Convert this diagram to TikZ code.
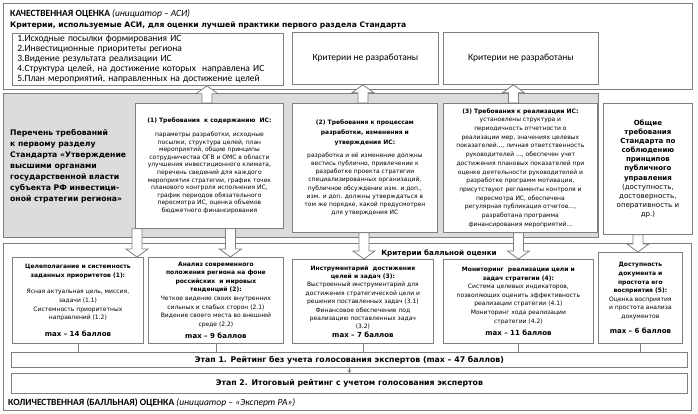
\documentclass[tikz,border=0pt]{standalone}
\usepackage{fontspec}
\setmainfont{DejaVu Sans}
\newfontfamily\calibrifont{Carlito}
\usetikzlibrary{arrows.meta,calc}
\definecolor{linegray}{HTML}{7F7F7F}
\definecolor{bandgray}{HTML}{DCDCDC}
\tikzset{wh/.style 2 args={minimum width=#1pt, minimum height=#2pt}}

\begin{document}
\begin{tikzpicture}[x=1pt,y=-1pt]
        \tikzstyle{frame}=[draw=linegray, line width=0.8pt, anchor=north west, inner sep=0pt]
        \tikzstyle{box}=[draw=linegray, line width=0.8pt, fill=white, anchor=north west, inner sep=2pt, align=center]
        \tikzstyle{req}=[box, font=\fontsize{6}{8.2}\selectfont]
        \tikzstyle{crit}=[box, font=\fontsize{6}{8.6}\selectfont]
        \tikzstyle{linkline}=[draw=linegray, line width=0.8pt]
        \tikzstyle{hollow}=[draw=linegray, fill=white, line width=0.8pt,
            to path={let \p1=(\tikztostart), \p2=(\tikztotarget), \n1={sign(\y2-\y1)} in
                (\x1-5pt,\y1) -- (\x1-5pt,\y2-\n1*8pt) -- (\x1-11pt,\y2-\n1*8pt) -- (\x1,\y2)
                -- (\x1+11pt,\y2-\n1*8pt) -- (\x1+5pt,\y2-\n1*8pt) -- (\x1+5pt,\y1) -- cycle}]

        \useasboundingbox (0,0) rectangle (698,414);

        % upper part
        \node[frame, wh={689}{86}] (qualframe) at (3,3) {};
        \node[anchor=west, inner sep=0pt, font=\calibrifont\fontsize{9.5}{11}\selectfont] (qualtitle) at (10,14)
            {\textbf{КАЧЕСТВЕННАЯ ОЦЕНКА} \textit{(инициатор – АСИ)}};
        \node[anchor=west, inner sep=0pt, font=\bfseries\fontsize{7.6}{9}\selectfont] (qualsub) at (10,25)
            {Критерии, используемые АСИ, для оценки лучшей практики первого раздела Стандарта};
        \node[box, wh={271}{52}, inner xsep=5pt, text width=261pt, align=left, font=\calibrifont\fontsize{9.5}{10}\selectfont] (basics) at (12,33)
            {1.Исходные посылки формирования ИС\\ 2.Инвестиционные приоритеты региона\\ 3.Видение результата реализации ИС\\
             4.Структура целей, на достижение которых\ \ направлена ИС\\ 5.План мероприятий, направленных на достижение целей};
        \node[box, wh={146}{52}, font=\calibrifont\fontsize{9.5}{10}\selectfont] (nocrit2) at (292,32) {Критерии не разработаны};
        \node[box, wh={155}{52}, font=\calibrifont\fontsize{9.5}{10}\selectfont] (nocrit3) at (443,32) {Критерии не разработаны};

        % requirements band
        \node[frame, fill=bandgray, wh={595}{144}] (reqband) at (3,93) {};
        \node[anchor=west, inner sep=0pt, align=left, font=\bfseries\fontsize{7.7}{11}\selectfont] (reqtitle) at (10,166)
            {Перечень требований\\ к первому разделу\\ Стандарта «Утверждение\\ высшими органами\\ государственной власти\\ субъекта РФ инвестици-\\ оной стратегии региона»};
        \node[req, wh={148}{125}, font=\fontsize{6}{7.6}\selectfont] (req1) at (135,103)
            {\textbf{(1) Требования\ \ к содержанию\ \ ИС:}\\[6pt]
             параметры разработки, исходные\\ посылки, структура целей, план\\ мероприятий, общие принципы\\
             сотрудничества ОГВ и ОМС в области\\ улучшения инвестиционного климата,\\ перечень сведений для каждого\\
             мероприятия стратегии, график точек\\ планового контроля исполнения ИС,\\ график периодов обязательного\\
             пересмотра ИС, оценка объемов\\ бюджетного финансирования};
        \node[req, wh={145}{129}] (req2) at (292,103)
            {\textbf{(2) Требования к процессам}\\[1.5pt] \textbf{разработки, изменения и}\\[1.5pt] \textbf{утверждения ИС:}\\[5pt]
             разработка и её изменение должны\\ вестись публично, привлечение к\\ разработке проекта стратегии\\
             специализированных организаций,\\ публичное обсуждение изм. и доп.,\\ изм. и доп. должны утверждаться в\\
             том же порядке, какой предусмотрен\\ для утверждения ИС};
        \node[req, wh={154}{129}, font=\fontsize{6}{8.7}\selectfont] (req3) at (443,103)
            {\textbf{(3) Требования к реализации ИС:}\\
             установлены структура и\\ периодичность отчетности о\\ реализации мер, значениях целевых\\
             показателей..., личная ответственность\\ руководителей ..., обеспечен учет\\ достижения плановых показателей при\\
             оценке деятельности руководителей и\\ разработке программ мотивации,\\ присутствуют регламенты контроля и\\
             пересмотра ИС, обеспечена\\ регулярная публикация отчетов...,\\ разработана программа\\ финансирования мероприятий...};
        \node[box, wh={89}{131}, font=\fontsize{7}{9.1}\selectfont] (pubreq) at (603,103)
            {\textbf{Общие}\\ \textbf{требования}\\ \textbf{Стандарта по}\\ \textbf{соблюдению}\\ \textbf{принципов}\\
             \textbf{публичного}\\ \textbf{управления}\\ (доступность,\\ достоверность,\\ оперативность и\\ др.)};

        % scoring part
        \node[frame, wh={688}{167}] (scoreframe) at (3,243) {};
        \node[inner sep=0pt, font=\bfseries\fontsize{7.2}{9}\selectfont] (scorehead) at (439,253) {Критерии балльной оценки};
        \node[crit, wh={131}{86}] (crit1) at (12,257)
            {\textbf{Целеполагание и системность}\\ \textbf{заданных приоритетов (1):}\\[8pt]
             Ясная актуальная цель, миссия,\\ задачи (1.1)\\ Системность приоритетных\\ направлений (1.2)\\[8pt]
             {\bfseries\fontsize{7}{9}\selectfont max – 14 баллов}};
        \node[crit, wh={135}{86}] (crit2) at (148,257)
            {\textbf{Анализ современного}\\ \textbf{положения региона на фоне}\\ \textbf{российских\ \ и мировых}\\ \textbf{тенденций (2):}\\
             Четкое видение своих внутренних\\ сильных и слабых сторон (2.1)\\ Видение своего места во внешней\\ среде (2.2)\\[4pt]
             {\bfseries\fontsize{7}{9}\selectfont max – 9 баллов}};
        \node[crit, wh={141}{84}, font=\fontsize{6}{8.4}\selectfont] (crit3) at (292,259)
            {\textbf{Инструментарий\ \ достижения}\\ \textbf{целей и задач (3):}\\
             Выстроенный инструментарий для\\ достижения стратегической цели и\\ решения поставленных задач (3.1)\\
             Финансовое обеспечение под\\ реализацию поставленных задач\\ (3.2)\\
             {\bfseries\fontsize{7}{9}\selectfont max – 7 баллов}};
        \node[crit, wh={150}{84}] (crit4) at (443,259)
            {\textbf{Мониторинг\ \ реализации цели и}\\ \textbf{задач стратегии (4):}\\
             Система целевых индикаторов,\\ позволяющих оценить эффективность\\ реализации стратегии (4.1)\\
             Мониторинг хода реализации\\ стратегии (4.2)\\[4pt]
             {\bfseries\fontsize{7}{9}\selectfont max – 11 баллов}};
        \node[crit, wh={84}{91}] (crit5) at (598,252)
            {\textbf{Доступность}\\ \textbf{документа и}\\ \textbf{простота его}\\ \textbf{восприятия (5):}\\
             Оценка восприятия\\ и простота анализа\\ документов\\[6pt]
             {\bfseries\fontsize{7}{9}\selectfont max – 6 баллов}};
        \node[box, wh={676}{15}, font=\bfseries\fontsize{7.8}{9}\selectfont] (stage1) at (11,352)
            {Этап 1. Рейтинг без учета голосования экспертов (max – 47 баллов)};
        \node[box, wh={676}{20}, font=\bfseries\fontsize{7.8}{9}\selectfont] (stage2) at (11,373)
            {Этап 2. Итоговый рейтинг с учетом голосования экспертов};
        \node[anchor=west, inner sep=0pt, font=\calibrifont\fontsize{9.5}{11}\selectfont] (quanttitle) at (8,403)
            {\textbf{КОЛИЧЕСТВЕННАЯ (БАЛЛЬНАЯ) ОЦЕНКА} \textit{(инициатор – «Эксперт РА»)}};

        % connectors
        \foreach \n in {1,...,5}
            \draw[linkline] (crit\n.south) -- (crit\n.south |- stage1.north);
        \draw[linkline, -{Stealth[length=3pt, width=4pt]}] (stage1.south) -- (stage2.north);

        % block arrows
        \draw[hollow] ([xshift=72pt]req1.north west) to (basics.south);
        \draw[hollow] ([xshift=-2pt]req2.north) to (nocrit2.south);
        \draw[hollow] ([xshift=-7pt]req3.north) to (nocrit3.south);
        \draw[hollow] ([xshift=2pt]req1.south west) to (crit1.north);
        \draw[hollow] ([xshift=21pt]req1.south) to (crit2.north);
        \draw[hollow] ([xshift=-1pt]req2.south) to (crit3.north);
        \draw[hollow] ([xshift=-2pt]req3.south) to (crit4.north);
        \draw[hollow] ([xshift=-10pt]pubreq.south) to (crit5.north);
\end{tikzpicture}
\end{document}
